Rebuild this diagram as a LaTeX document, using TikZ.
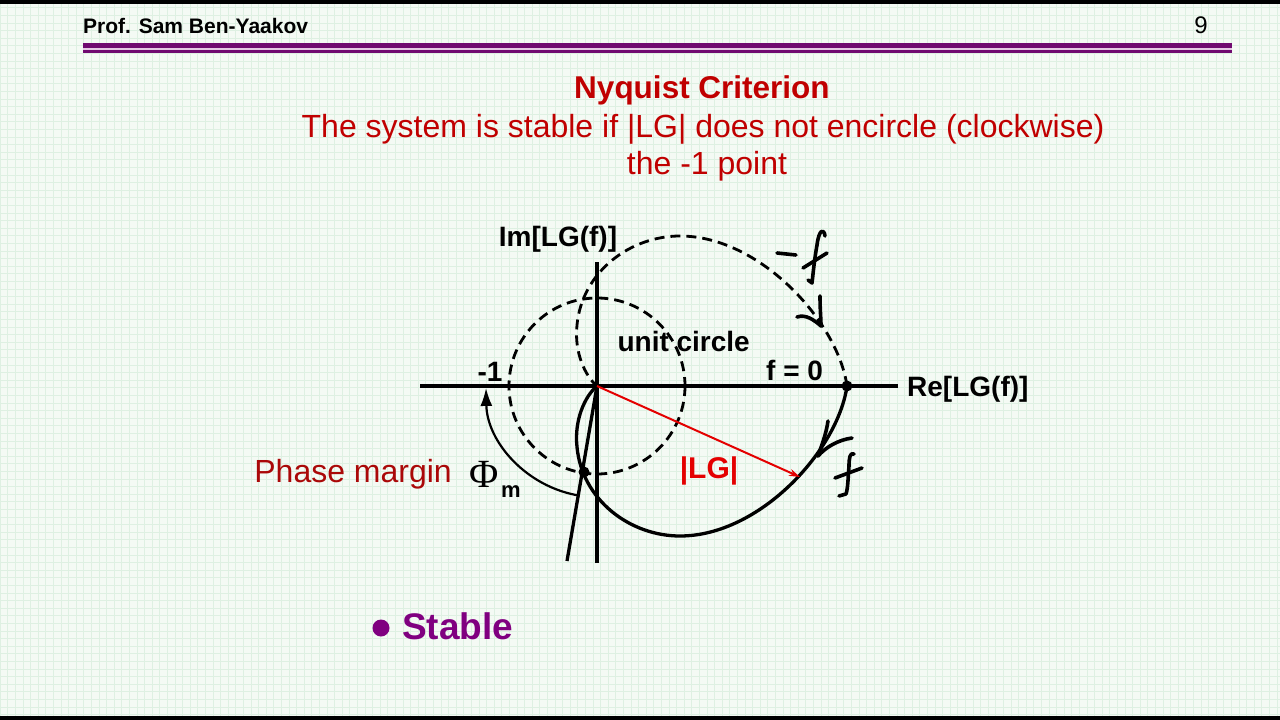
\documentclass[tikz,border=0pt]{standalone}
\usepackage{fontspec}
\setmainfont{Liberation Sans}
\newfontfamily\seriffont{Liberation Serif}
\usetikzlibrary{arrows.meta,positioning}

\definecolor{slidebg}{RGB}{244,250,244}
\definecolor{gridgreen}{RGB}{222,240,226}
\definecolor{titlered}{RGB}{192,0,0}
\definecolor{darkred}{RGB}{170,8,8}
\definecolor{vecred}{RGB}{228,0,0}
\definecolor{barpurple}{RGB}{112,10,112}
\definecolor{barpink}{RGB}{228,200,228}
\definecolor{stablepurple}{RGB}{128,0,128}

\begin{document}
\begin{tikzpicture}[
  x=1pt, y=-1pt,
  lbl/.style={inner sep=0pt, font=\bfseries\fontsize{28}{32}\selectfont},
  redtext/.style={inner sep=0pt, text=titlered, font=\fontsize{32}{38}\selectfont},
  axis/.style={line width=3.2pt},
  curve/.style={line width=3.3pt},
  dashcurve/.style={line width=2.8pt, dash pattern=on 10pt off 6pt},
  hand/.style={line width=3.6pt, line cap=round, line join=round},
  dot/.style={circle, fill=black, inner sep=0pt, minimum size=11pt},
  vec/.style={vecred, line width=2pt, -{Stealth[length=11pt,width=7pt]}}
]
  % slide background with faint grid
  \useasboundingbox (0,0) rectangle (1280,720);
  \fill[slidebg] (0,0) rectangle (1280,720);
  \draw[gridgreen, line width=0.4pt] (0,720) grid[step=7.6pt] (1280,0);
  \fill[black] (0,0) rectangle (1280,4);
  \fill[black] (0,716) rectangle (1280,720);

  % header
  \node[anchor=base west, inner sep=0pt, font=\bfseries\fontsize{21}{25}\selectfont] (author) at (83,33) {Prof. Sam Ben-Yaakov};
  \node[anchor=base, inner sep=0pt, font=\fontsize{24}{28}\selectfont] (page) at (1201,34) {9};
  \fill[barpink] (83,47.5) rectangle (1232,50.2);
  \draw[barpurple, line width=4.4pt] (83,45.5) -- (1232,45.5);
  \draw[barpurple, line width=2.6pt] (83,51.3) -- (1232,51.3);

  % title and condition
  \node[anchor=base, inner sep=0pt, text=titlered, font=\bfseries\fontsize{31.5}{36}\selectfont] (title) at (702,98) {Nyquist Criterion};
  \node[redtext, anchor=base] (cond) at (703,137.5) {The system is stable if |LG| does not encircle (clockwise)};
  \node[redtext, anchor=base] (cond2) at (707,174.5) {the -1 point};

  % axes
  \coordinate (O) at (597,386);
  \coordinate (reL) at (420,386);
  \coordinate (reR) at (898,386);
  \coordinate (imT) at (597,262);
  \coordinate (imB) at (597,563);
  \draw[axis] (reL) -- (reR);
  \draw[axis] (imB) -- (imT);
  \node[lbl, anchor=base west] (relbl) at (907,396) {Re[LG(f)]};
  \node[lbl, anchor=base] (imlbl) at (558,246) {Im[LG(f)]};
  \node[lbl, anchor=base] (minus1) at (490,381) {-1};

  % unit circle
  \draw[dashcurve] (O) circle[radius=88];
  \node[lbl, anchor=base east] (unitlbl) at (750,351) {unit circle};

  % Nyquist plot: positive f solid, negative f dashed
  \node[dot] (f0) at (847,386) {};
  \node[dot] (cross) at (584,472) {};
  \node[lbl, anchor=base west] (f0lbl) at (766,380) {f = 0};
  \draw[curve] (f0.center) .. controls (838,450) and (760,536) .. (680,536)
    .. controls (630,536) and (582,500) .. (577,447)
    .. controls (574,420) and (585,396) .. (O);
  \draw[dashcurve] (f0.center) .. controls (838,322) and (760,236) .. (680,236)
    .. controls (630,236) and (582,272) .. (577,325)
    .. controls (574,352) and (585,376) .. (O);
  \coordinate (hf) at (567,561);
  \draw[curve] (hf) -- (O);

  % |LG| vector
  \coordinate (lgtip) at (800,477);
  \draw[vec] (O) -- (lgtip);
  \node[inner sep=0pt, anchor=base, text=vecred, font=\bfseries\fontsize{30}{34}\selectfont] (lglbl) at (709,478) {|LG|};

  % phase margin
  \draw[line width=2.2pt, -{Latex[length=18pt,width=12pt]}] (O) ++(99:111) arc[start angle=99, end angle=179, radius=111];
  \node[inner sep=0pt, anchor=base east, text=darkred, font=\fontsize{32}{38}\selectfont] (pmlbl) at (452,482) {Phase margin};
  \node[inner sep=0pt, anchor=base west, font=\seriffont\fontsize{40}{44}\selectfont] (phi) at (469,487) {Φ};
  \node[inner sep=0pt, anchor=base west, font=\bfseries\fontsize{22}{26}\selectfont] (msub) at (501,497) {m};

  % handwritten marks
  \draw[hand] (777,253) -- (796,255);
  \draw[hand] (825,236) .. controls (824,228) and (819,229) .. (817,245) .. controls (814,262) and (813,275) .. (812,283) -- (808,280);
  \draw[hand] (803,268) -- (827,253);
  \draw[hand] (820,296) .. controls (820,310) and (821,318) .. (821,326);
  \draw[hand] (797,317) .. controls (806,314) and (814,320) .. (821,326);
  \draw[hand] (828,421) .. controls (826,435) and (821,447) .. (818,456);
  \draw[hand] (852,438) .. controls (838,440) and (826,447) .. (818,456);
  \draw[hand] (854,454) .. controls (850,452) and (849,458) .. (849,466) .. controls (848,478) and (848,488) .. (846,494) -- (839,496);
  \draw[hand] (835,478) -- (862,468);

  % bullet
  \node[circle, fill=stablepurple, inner sep=0pt, minimum size=17pt] (bul) at (381,628) {};
  \node[inner sep=0pt, anchor=base west, text=stablepurple, font=\bfseries\fontsize{37}{42}\selectfont] (stable) at (402,639) {Stable};
\end{tikzpicture}
\end{document}
